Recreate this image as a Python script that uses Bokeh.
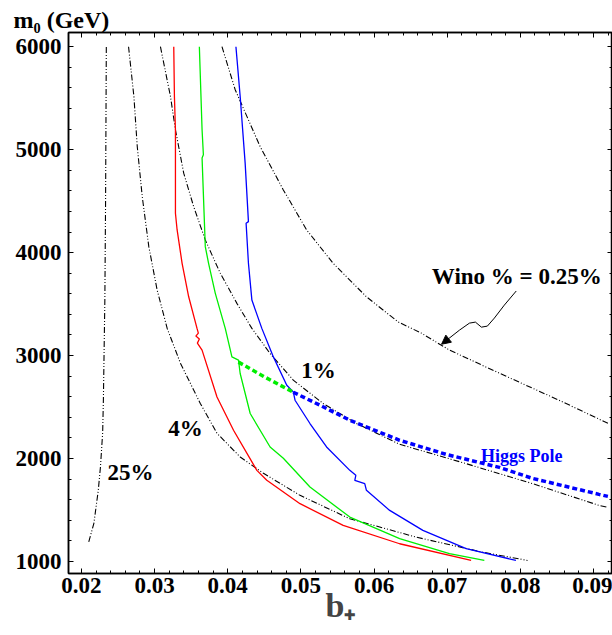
from bokeh.plotting import figure
from bokeh.models import LinearAxis, FixedTicker, Label, Arrow, NormalHead, Range1d, CustomJSTickFormatter
from bokeh.embed import file_html
from bokeh.resources import INLINE

# ---- data ----
x_ticks = [0.02, 0.03, 0.04, 0.05, 0.06, 0.07, 0.08, 0.09]
y_ticks = [1000, 2000, 3000, 4000, 5000, 6000]

wino25_x = [0.0210, 0.0217, 0.0223, 0.0226, 0.0229, 0.0230, 0.0232, 0.0233, 0.0234]
wino25_y = [1190, 1370, 1690, 1920, 2250, 2570, 3540, 4510, 6000]

wino4_x = [0.02644, 0.02717, 0.02763, 0.02831, 0.02921, 0.03035, 0.03172, 0.03353, 0.03625,
           0.03853, 0.04170, 0.04488, 0.04988, 0.05669, 0.06578, 0.07485, 0.08098]
wino4_y = [6000, 5517, 5030, 4544, 4058, 3636, 3264, 2926, 2534,
           2245, 2015, 1856, 1642, 1415, 1236, 1090, 1010]

wino1_x = [0.03080, 0.03217, 0.03285, 0.03398, 0.03534, 0.03693, 0.03898, 0.04125, 0.04330,
           0.04579, 0.04896, 0.05305, 0.05760, 0.06350, 0.07259, 0.08166, 0.09075, 0.09197]
wino1_y = [6000, 5517, 5193, 4772, 4447, 4123, 3799, 3507, 3264,
           3020, 2761, 2534, 2340, 2138, 1950, 1756, 1545, 1525]

wino025_x = [0.03921, 0.04102, 0.04443, 0.04760, 0.05079, 0.05441, 0.05896, 0.06327, 0.06646,
             0.07031, 0.07712, 0.08530, 0.09197]
wino025_y = [6000, 5582, 5030, 4609, 4220, 3896, 3571, 3328, 3218,
             3053, 2829, 2566, 2342]

red_x = [0.03262, 0.03271, 0.03285, 0.03285, 0.03308, 0.03376, 0.03466, 0.03580, 0.03598,
         0.03564, 0.03612, 0.03585, 0.03649, 0.03853, 0.04079, 0.04398, 0.04534, 0.04988,
         0.05578, 0.06350, 0.07327]
red_y = [6000, 5517, 5193, 4382, 4220, 3896, 3571, 3264, 3218,
         3189, 3160, 3121, 3053, 2598, 2274, 1885, 1788, 1561,
         1350, 1172, 1010]

green_x = [0.03612, 0.03649, 0.03667, 0.03649, 0.03693, 0.03738, 0.03830, 0.03966, 0.04057,
           0.04147, 0.04170, 0.04307, 0.04579, 0.04760, 0.05124, 0.05669, 0.06350, 0.07031,
           0.07508]
green_y = [6000, 5193, 4950, 4920, 4058, 3896, 3604, 3264, 2987,
           2955, 2826, 2437, 2112, 2002, 1723, 1431, 1221, 1075,
           1010]

blue_x = [0.04112, 0.04170, 0.04238, 0.04283, 0.04251, 0.04283, 0.04330, 0.04466, 0.04624,
          0.04807, 0.04896, 0.04920, 0.05124, 0.05351, 0.05669, 0.05751, 0.05737, 0.05873,
          0.05896, 0.06214, 0.06668, 0.07259, 0.07940]
blue_y = [6000, 5517, 4869, 4301, 4285, 3896, 3539, 3264, 2987,
          2712, 2647, 2566, 2340, 2112, 1885, 1837, 1788, 1756,
          1691, 1496, 1302, 1124, 1010]

green_band_x = [0.04147, 0.04511, 0.04896]
green_band_y = [2936, 2790, 2644]

higgs_x = [0.04896, 0.05260, 0.05669, 0.06350, 0.06986, 0.07712, 0.08166, 0.09075, 0.09197]
higgs_y = [2644, 2518, 2372, 2177, 2040, 1914, 1807, 1652, 1632]

arrow_x = [0.07944, 0.07781, 0.07645, 0.07549, 0.07468, 0.07386, 0.07304, 0.07168]
arrow_y = [3627, 3490, 3364, 3286, 3276, 3325, 3315, 3247]
arrow_tip = (0.06923, 3110)

SERIF = "Liberation Serif"

p = figure(width=612, height=635, x_range=Range1d(0.01823, 0.0926), y_range=Range1d(883, 6138),
           output_backend="svg", toolbar_location=None,
           min_border_left=68, min_border_right=0, min_border_top=32, min_border_bottom=62)
p.xgrid.visible = False
p.ygrid.visible = False
p.outline_line_color = "black"
p.outline_line_width = 1.5
p.background_fill_color = "white"
p.border_fill_color = "white"

xminor = [round(0.018 + 0.002 * i, 4) for i in range(0, 38)]
yminor = [800 + 200 * i for i in range(0, 28)]


def style_axis(ax, ticks, minor, show_labels):
    ax.ticker = FixedTicker(ticks=ticks, minor_ticks=minor)
    ax.axis_line_color = "black"
    ax.axis_line_width = 1.5
    ax.major_tick_in = 5
    ax.major_tick_out = 0
    ax.minor_tick_in = 3
    ax.minor_tick_out = 0
    ax.major_tick_line_color = "black"
    ax.minor_tick_line_color = "black"
    if show_labels:
        ax.major_label_text_font = SERIF
        ax.major_label_text_font_style = "bold"
        ax.major_label_text_font_size = "23px"
        ax.major_label_text_color = "black"
        ax.major_label_standoff = 4
    else:
        ax.formatter = CustomJSTickFormatter(code="return ''")
        ax.major_label_text_font_size = "1px"
        ax.major_label_standoff = 0


style_axis(p.xaxis[0], x_ticks, xminor, True)
style_axis(p.yaxis[0], y_ticks, yminor, True)
p.yaxis[0].major_label_standoff = 7

p.xaxis[0].axis_label = "b\u208a"
p.xaxis[0].axis_label_text_font = SERIF
p.xaxis[0].axis_label_text_font_style = "bold"
p.xaxis[0].axis_label_text_font_size = "34px"
p.xaxis[0].axis_label_standoff = -9

top = LinearAxis()
style_axis(top, x_ticks, xminor, False)
p.add_layout(top, "above")
right = LinearAxis()
style_axis(right, y_ticks, yminor, False)
p.add_layout(right, "right")

p.title.text = "m\u2080 (GeV)"
p.title.align = "left"
p.title.offset = -55
p.title.standoff = 0
p.title.text_font = SERIF
p.title.text_font_style = "bold"
p.title.text_font_size = "24px"
p.title.text_color = "black"

dd = "6 2 1 2 1 2"
for xs, ys in [(wino25_x, wino25_y), (wino4_x, wino4_y), (wino1_x, wino1_y), (wino025_x, wino025_y)]:
    p.line(xs, ys, line_color="black", line_width=1.1, line_dash=dd)

p.line(red_x, red_y, line_color="#ff0000", line_width=1.3)
p.line(green_x, green_y, line_color="#00ee00", line_width=1.3)
p.line(blue_x, blue_y, line_color="#0000ff", line_width=1.3)
p.line(green_band_x, green_band_y, line_color="#00ee00", line_width=3.5, line_dash="5 3")
p.line(higgs_x, higgs_y, line_color="#0000ff", line_width=3.5, line_dash="5 3")

# arrow
p.line(arrow_x, arrow_y, line_color="black", line_width=1)
p.add_layout(Arrow(end=NormalHead(size=9, fill_color="black", line_color="black"),
                   x_start=arrow_x[-1], y_start=arrow_y[-1], x_end=arrow_tip[0], y_end=arrow_tip[1],
                   line_color="black", line_width=1))


def lab(text, x, y, size, color="black"):
    p.add_layout(Label(x=x, y=y, text=text, text_font=SERIF, text_font_style="bold",
                       text_font_size=size, text_color=color, text_align="center",
                       text_baseline="middle"))


lab("Wino % = 0.25%", 0.07951, 3772, "23px")
lab("1%", 0.05240, 2858, "23px")
lab("4%", 0.03421, 2294, "23px")
lab("25%", 0.02672, 1866, "23px")
lab("Higgs Pole", 0.08019, 2021, "18px", color="#0000ff")

open("out.html", "w").write(file_html(p, INLINE))
